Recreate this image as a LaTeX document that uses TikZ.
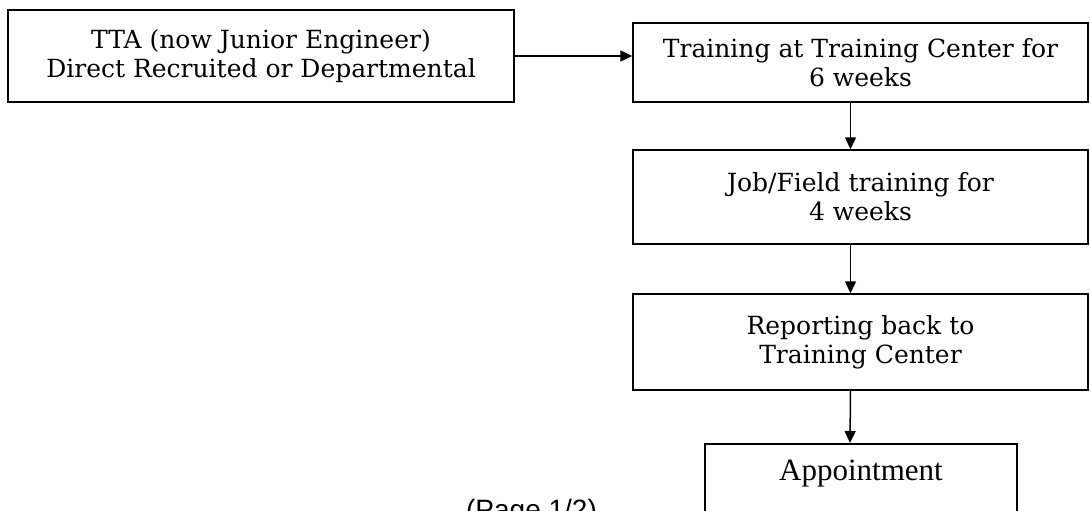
\documentclass[tikz,border=0pt]{standalone}
\usepackage{fontspec}
\setmainfont{DejaVu Serif}
\newfontfamily\pagefont{Liberation Sans}
\newfontfamily\apptfont{Liberation Serif}
\usetikzlibrary{arrows.meta}
\tikzset{stage/.style={draw, line width=1.5pt, align=center,
      font=\fontsize{25}{29}\selectfont, inner sep=0pt},
    flow/.style={line width=1.5pt, -{Triangle[length=12pt,width=11pt]}},
    }

\begin{document}
\begin{tikzpicture}[x=1pt,y=-1pt]
\useasboundingbox (0,0) rectangle (1090,511);
\node[stage, minimum width=506pt, minimum height=92pt] (tta) at (261,56)
	{TTA (now Junior Engineer)\\Direct Recruited or Departmental};
\node[stage, minimum width=455pt, minimum height=79pt] (center) at (860.5,62.5)
	{Training at Training Center for\\6 weeks};
\node[stage, minimum width=455pt, minimum height=94pt] (field) at (860.5,197)
	{Job/Field training for\\4 weeks};
\node[stage, minimum width=455pt, minimum height=96pt] (report) at (860.5,342)
	{Reporting back to\\Training Center};
\node[stage, minimum width=312pt, text height=37pt, text depth=50pt,
	font=\apptfont\fontsize{31}{36}\selectfont, anchor=north] (appt) at (861,443)
	{Appointment};
\node[font=\pagefont\fontsize{28}{32}\selectfont, anchor=base] (page) at (531.5,519) {(Page 1/2)};
% arrows
\draw[flow] (tta.east) -- (tta.east -| center.west);
\draw[flow] ([xshift=-10pt]center.south) -- ([xshift=-10pt]field.north);
\draw[flow] ([xshift=-10pt]field.south) -- ([xshift=-10pt]report.north);
\draw[flow] ([xshift=-10pt]report.south) -- ([xshift=-11pt]appt.north);
\end{tikzpicture}
\end{document}
